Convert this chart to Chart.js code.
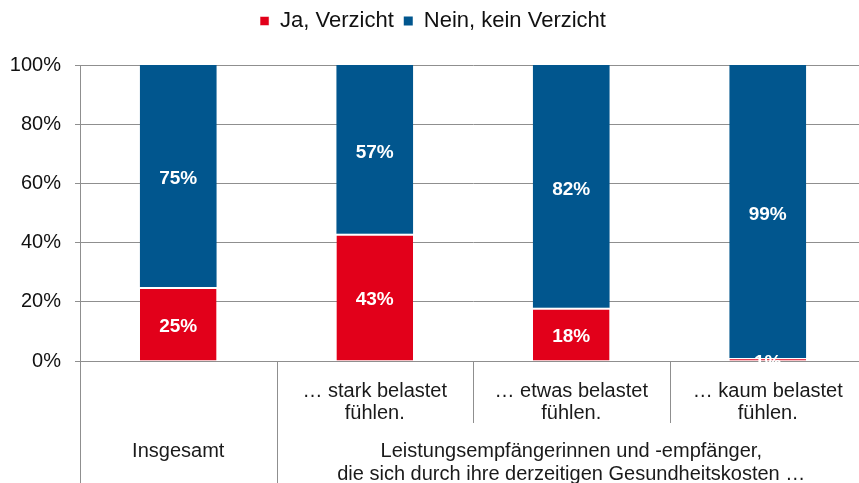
<!DOCTYPE html>
<html>
<head>
<meta charset="utf-8">
<script src="https://cdn.jsdelivr.net/npm/chart.js@4.4.1/dist/chart.umd.min.js"></script>
<style>
  html, body { margin: 0; padding: 0; background: #fff; overflow: hidden; }
  #wrap { width: 866px; height: 483px; position: relative; }
</style>
</head>
<body>
<div id="wrap"><canvas id="myChart"></canvas></div>
<script>
// Data
const categories = ['Insgesamt', '… stark belastet fühlen.', '… etwas belastet fühlen.', '… kaum belastet fühlen.'];
const subLabels = [[], ['… stark belastet', 'fühlen.'], ['… etwas belastet', 'fühlen.'], ['… kaum belastet', 'fühlen.']];
const groupLabels = [
    { from: 0, to: 0, lines: ['Insgesamt'] },
    { from: 1, to: 3, lines: ['Leistungsempfängerinnen und -empfänger,', 'die sich durch ihre derzeitigen Gesundheitskosten …'] }
];
const jaValues = [25, 43, 18, 1];
const neinValues = [75, 57, 82, 99];
const seriesNames = ['Ja, Verzicht', 'Nein, kein Verzicht'];

const red = '#E2001A';
const blue = '#01568E';
const lineGray = '#8f8f8f';
const fontFamily = '"Liberation Sans", Arial, sans-serif';

// Extra room between legend and plot
const legendGap = {
    id: 'legendGap',
    beforeInit(chart) {
        const origFit = chart.legend.fit;
        chart.legend.fit = function () {
            origFit.call(this);
            this.height += 23;
        };
    }
};

// White percentage labels inside the segments
const valueLabels = {
    id: 'valueLabels',
    afterDatasetsDraw(chart) {
        const c = chart.ctx;
        c.save();
        c.font = 'bold 19px ' + fontFamily;
        c.fillStyle = '#fff';
        c.textAlign = 'center';
        c.textBaseline = 'middle';
        chart.data.datasets.forEach((ds, i) => {
            chart.getDatasetMeta(i).data.forEach((bar, j) => {
                const p = bar.getCenterPoint();
                c.fillText(ds.data[j] + '%', p.x, p.y + 3);
            });
        });
        c.restore();
    }
};

// Two-level category axis with separators
const groupAxis = {
    id: 'groupAxis',
    afterDraw(chart) {
        const c = chart.ctx;
        const x = chart.scales.x;
        const area = chart.chartArea;
        const step = area.width / categories.length;
        c.save();
        c.strokeStyle = lineGray;
        c.lineWidth = 1;
        // separators
        for (let i = 1; i < categories.length; i++) {
            const sx = Math.round(area.left + step * i) + 0.5;
            const isGroupEdge = groupLabels.some(g => g.from === i);
            c.beginPath();
            c.moveTo(sx, area.bottom);
            c.lineTo(sx, isGroupEdge ? chart.height : 423);
            c.stroke();
        }
        c.beginPath();
        c.moveTo(area.left + 0.5, area.bottom);
        c.lineTo(area.left + 0.5, chart.height);
        c.stroke();

        c.fillStyle = '#1a1a1a';
        c.font = '20px ' + fontFamily;
        c.textAlign = 'center';
        c.textBaseline = 'alphabetic';
        subLabels.forEach((lines, i) => {
            lines.forEach((t, k) => c.fillText(t, x.getPixelForValue(i), 397 + k * 22));
        });
        groupLabels.forEach(g => {
            const cx = (x.getPixelForValue(g.from) + x.getPixelForValue(g.to)) / 2;
            g.lines.forEach((t, k) => c.fillText(t, cx, 457 + k * 23));
        });
        c.restore();
    }
};

const ctx = document.getElementById('myChart').getContext('2d');
let myChart = new Chart(ctx, {
    type: 'bar',
    data: {
        labels: categories,
        datasets: [{
            label: seriesNames[0],
            data: jaValues,
            backgroundColor: red,
            borderColor: '#fff',
            borderWidth: { top: 2, left: 0, right: 0, bottom: 0 },
            borderSkipped: false
        }, {
            label: seriesNames[1],
            data: neinValues,
            backgroundColor: blue,
            borderWidth: 0
        }]
    },
    options: {
        responsive: true,
        maintainAspectRatio: false,
        animation: false,
        layout: { padding: { top: 0, left: 0, right: 0, bottom: 122 } },
        datasets: { bar: { barPercentage: 0.39, categoryPercentage: 1 } },
        scales: {
            x: { stacked: true, display: false },
            y: {
                stacked: true,
                min: 0,
                max: 100,
                ticks: {
                    stepSize: 20,
                    callback: v => v + '%',
                    color: '#111',
                    padding: 14,
                    font: { size: 20, family: fontFamily }
                },
                grid: { color: lineGray, tickLength: 5, lineWidth: 1 },
                border: { color: lineGray },
                afterFit(scale) { scale.width = 80; }
            }
        },
        plugins: {
            legend: {
                display: true,
                position: 'top',
                labels: {
                    color: '#111',
                    boxWidth: 9,
                    boxHeight: 9,
                    padding: 10,
                    font: { size: 22, family: fontFamily }
                }
            },
            tooltip: { enabled: false }
        }
    },
    plugins: [legendGap, valueLabels, groupAxis]
});
</script>
</body>
</html>
